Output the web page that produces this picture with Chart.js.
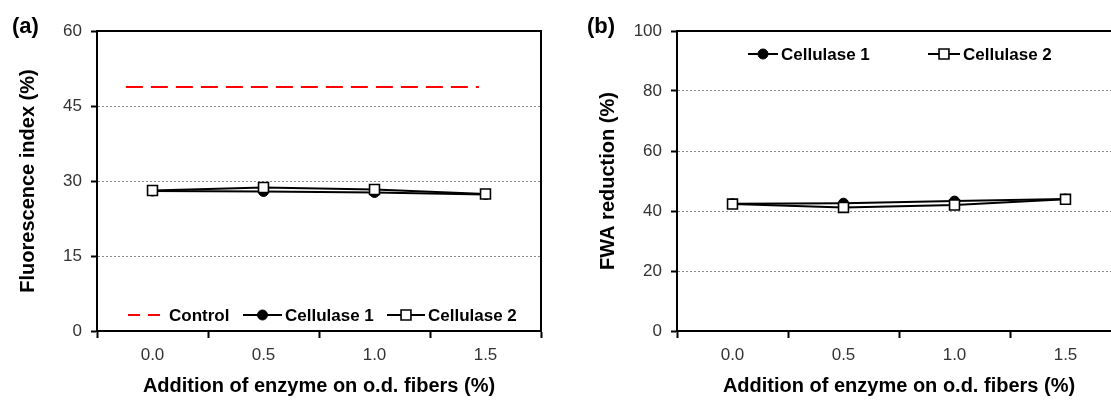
<!DOCTYPE html>
<html><head><meta charset="utf-8">
<script src="https://cdn.jsdelivr.net/npm/chart.js@4"></script>
<style>
html,body{margin:0;padding:0;background:#fff;overflow:hidden;width:1111px;height:401px;position:relative;}
.panel{position:absolute;top:0;width:560px;height:401px;}
#pa{left:0} #pb{left:580px}
.tag{position:absolute;font:bold 22px "Liberation Sans",Arial,sans-serif;color:#000;line-height:1;}
</style></head><body>
<div class="panel" id="pa"><canvas id="ca" width="560" height="401"></canvas></div>
<div class="panel" id="pb"><canvas id="cb" width="560" height="401"></canvas></div>
<div class="tag" style="left:12px;top:15px">(a)</div>
<div class="tag" style="left:587px;top:15px">(b)</div>
<script>
// ---- data ----
const enzymeDose = [0.0, 0.5, 1.0, 1.5];
const xTickValues = [0.0, 0.5, 1.0, 1.5];
const xTickLabels = ['0.0', '0.5', '1.0', '1.5'];
const fluorCellulase1 = [28.0, 27.9, 27.7, 27.3];
const fluorCellulase2 = [28.1, 28.7, 28.3, 27.4];
const fluorControl = [48.8, 48.8];
const controlSpan = [-0.12, 1.47];
const fluorYTicks = [0, 15, 30, 45, 60];
const fwaCellulase1 = [42.4, 42.6, 43.3, 44.0];
const fwaCellulase2 = [42.3, 41.2, 42.0, 43.9];
const fwaYTicks = [0, 20, 40, 60, 80, 100];
const xAxisTitle = 'Addition of enzyme on o.d. fibers (%)';

Chart.defaults.font.family = '"Liberation Sans", Arial, sans-serif';
Chart.defaults.color = '#333';

const FONT = '"Liberation Sans", Arial, sans-serif';
const xMin = -0.25, xMax = 1.75;

function pts(xs, ys) { return xs.map((x, i) => ({x: x, y: ys[i]})); }

const boxPlugin = {
  id: 'box',
  afterDraw(chart) {
    const a = chart.chartArea, ctx = chart.ctx;
    ctx.save();
    ctx.strokeStyle = '#000'; ctx.lineWidth = 2;
    ctx.strokeRect(a.left, a.top, a.right - a.left, a.bottom - a.top);
    ctx.restore();
  }
};

const legendPlugin = {
  id: 'customLegend',
  afterDraw(chart, args, opts) {
    if (!opts || !opts.items) return;
    const ctx = chart.ctx;
    ctx.save();
    ctx.font = 'bold 17px ' + FONT;
    ctx.textBaseline = 'middle';
    ctx.textAlign = 'left';
    opts.items.forEach(it => {
      const ds = chart.data.datasets[it.dataset];
      const y = opts.y;
      ctx.save();
      ctx.strokeStyle = ds.borderColor; ctx.lineWidth = ds.borderWidth;
      ctx.setLineDash(ds.legendDash || []);
      ctx.beginPath(); ctx.moveTo(it.x, y); ctx.lineTo(it.x + it.w, y); ctx.stroke();
      ctx.restore();
      const cx = it.x + it.w / 2;
      if (ds.pointRadius > 0) {
        ctx.save();
        ctx.fillStyle = ds.pointBackgroundColor; ctx.strokeStyle = ds.pointBorderColor;
        ctx.lineWidth = ds.pointBorderWidth;
        ctx.beginPath();
        if (ds.pointStyle === 'rect') {
          const s = Math.SQRT1_2 * ds.pointRadius;
          ctx.rect(cx - s, y - s, 2 * s, 2 * s);
        } else {
          ctx.arc(cx, y, ds.pointRadius, 0, Math.PI * 2);
        }
        ctx.fill(); ctx.stroke();
        ctx.restore();
      }
      ctx.fillStyle = '#000';
      ctx.fillText(ds.label, it.x + it.w + 3, y + 1);
    });
    ctx.restore();
  }
};

function makeOptions(yTicks, yTitle, legendOpts) {
  const yMin = yTicks[0], yMax = yTicks[yTicks.length - 1];
  return {
    responsive: false, animation: false, devicePixelRatio: 1,
    layout: {padding: {top: 31, right: 19, left: 0, bottom: 0}},
    plugins: {legend: {display: false}, tooltip: {enabled: false}, customLegend: legendOpts},
    scales: {
      x: {
        type: 'linear', min: xMin, max: xMax,
        afterBuildTicks: s => {
          const t = [xMin];
          xTickValues.forEach(v => { t.push(v); t.push(v + 0.25); });
          s.ticks = t.map(v => ({value: v}));
        },
        afterFit: s => { s.height = 70; },
        ticks: {
          autoSkip: false, maxRotation: 0, padding: 7, color: '#333',
          font: {size: 17},
          callback: v => { const i = xTickValues.findIndex(t => Math.abs(t - v) < 1e-6); return i >= 0 ? xTickLabels[i] : ''; }
        },
        grid: {
          drawOnChartArea: false, tickLength: 7, tickWidth: 2,
          tickColor: c => (xTickValues.some(t => Math.abs(t - c.tick.value) < 1e-6) ? 'rgba(0,0,0,0)' : '#000')
        },
        border: {color: '#000', width: 2},
        title: {display: true, text: xAxisTitle, color: '#000', font: {size: 20, weight: 'bold'}, padding: {top: 0, bottom: 3}}
      },
      y: {
        min: yMin, max: yMax,
        afterBuildTicks: s => { s.ticks = yTicks.map(v => ({value: v})); },
        afterFit: s => { s.width = 97; },
        ticks: {padding: 9, color: '#333', font: {size: 17}},
        grid: {
          tickLength: 6, tickWidth: 2, tickColor: '#000', lineWidth: 1,
          color: c => (c.tick && (c.tick.value === yMin || c.tick.value === yMax)) ? 'rgba(0,0,0,0)' : '#8a8a8a'
        },
        border: {color: '#000', width: 2, dash: [2, 2]},
        title: {display: true, text: yTitle, color: '#000', font: {size: 20, weight: 'bold'}, padding: {top: 16, bottom: 0}}
      }
    }
  };
}

function enzymeSeries(label, values, style, order) {
  const circle = style === 'circle';
  return {
    label: label, data: pts(enzymeDose, values), order: order,
    borderColor: '#000', borderWidth: 2, tension: 0,
    pointStyle: circle ? 'circle' : 'rect',
    pointRadius: circle ? 5 : 7,
    pointBackgroundColor: circle ? '#000' : '#fff',
    pointBorderColor: '#000', pointBorderWidth: circle ? 1 : 1.6
  };
}

new Chart(document.getElementById('ca'), {
  type: 'line',
  data: {datasets: [
    {label: 'Control', data: pts(controlSpan, fluorControl), order: 2,
     borderColor: '#ff0000', borderWidth: 2, borderDash: [17, 8], legendDash: [12, 8], pointRadius: 0, tension: 0},
    enzymeSeries('Cellulase 1', fluorCellulase1, 'circle', 1),
    enzymeSeries('Cellulase 2', fluorCellulase2, 'rect', 0)
  ]},
  options: makeOptions(fluorYTicks, 'Fluorescence index (%)', {
    y: 315, items: [{dataset: 0, x: 128, w: 38}, {dataset: 1, x: 243, w: 39}, {dataset: 2, x: 387, w: 38}]
  }),
  plugins: [boxPlugin, legendPlugin]
});

new Chart(document.getElementById('cb'), {
  type: 'line',
  data: {datasets: [
    enzymeSeries('Cellulase 1', fwaCellulase1, 'circle', 1),
    enzymeSeries('Cellulase 2', fwaCellulase2, 'rect', 0)
  ]},
  options: makeOptions(fwaYTicks, 'FWA reduction (%)', {
    y: 54, items: [{dataset: 0, x: 168, w: 30}, {dataset: 1, x: 348, w: 32}]
  }),
  plugins: [boxPlugin, legendPlugin]
});
</script>
</body></html>
